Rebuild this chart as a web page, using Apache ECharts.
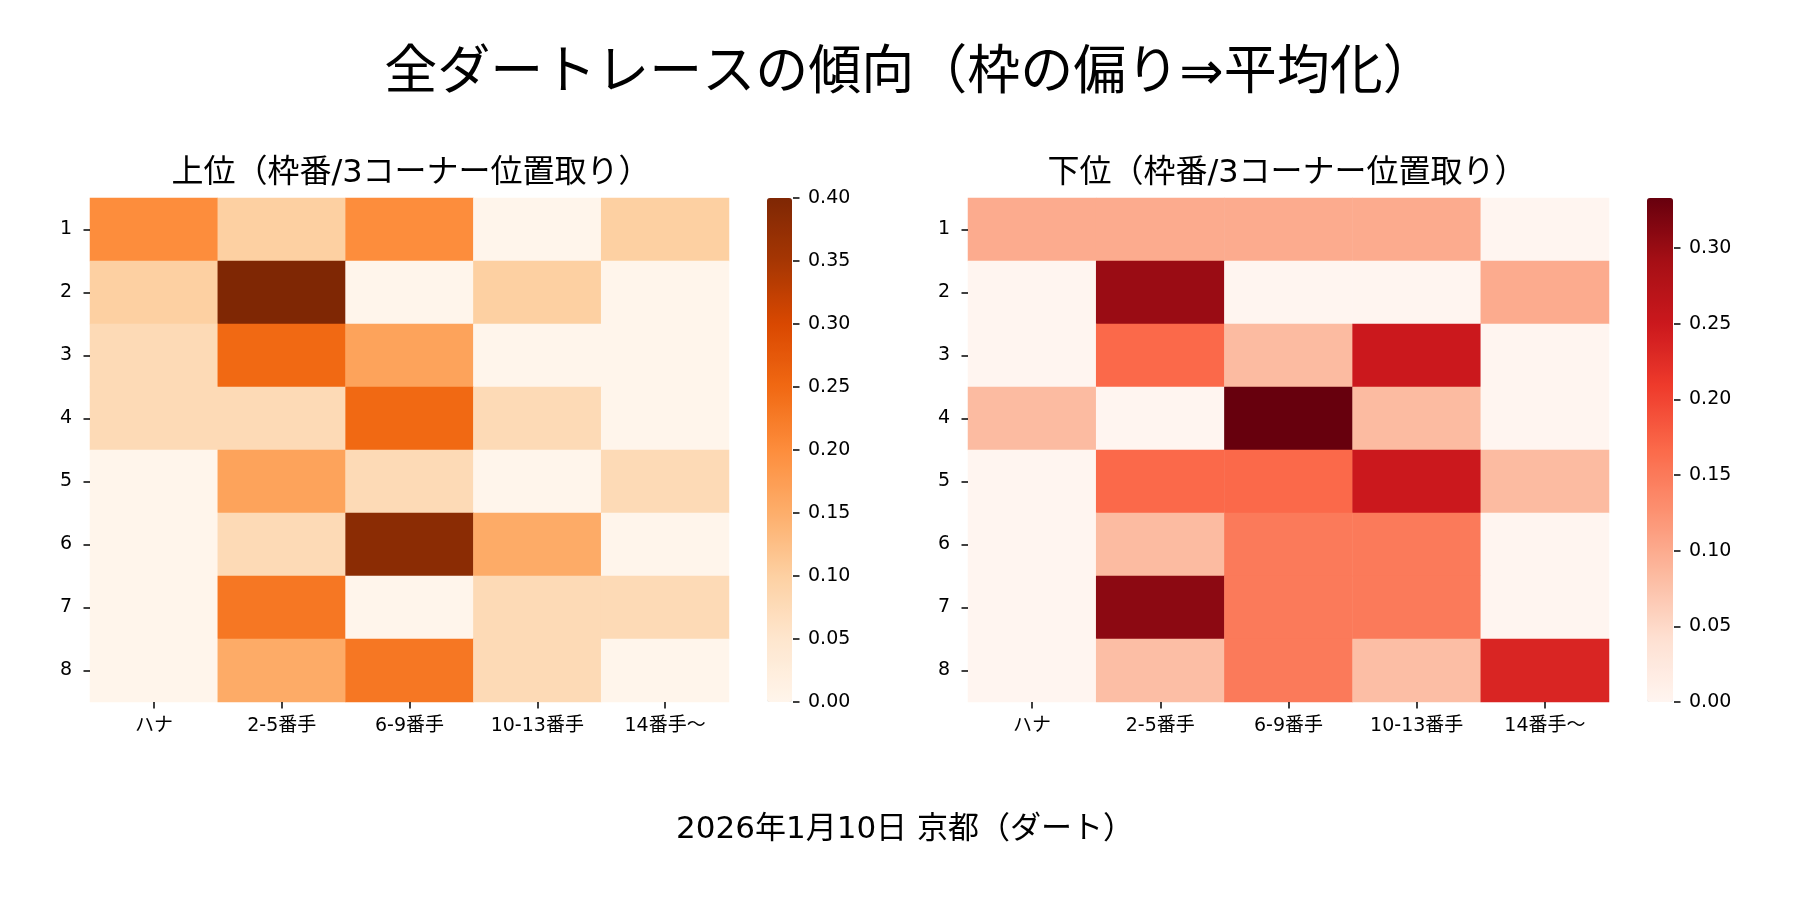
<!DOCTYPE html>
<html>
<head>
<meta charset="utf-8">
<title>全ダートレースの傾向</title>
<script src="https://cdn.jsdelivr.net/npm/echarts@6/dist/echarts.min.js"></script>
<style>
  html, body { margin: 0; padding: 0; background: #fff; }
  #chart { width: 1800px; height: 900px; }
</style>
</head>
<body>
<div id="chart"></div>
<script>
// rows = 枠番 1..8, columns = 3コーナー位置取り
var gateLabels = ["1", "2", "3", "4", "5", "6", "7", "8"];
var positionLabels = ["ハナ", "2-5番手", "6-9番手", "10-13番手", "14番手〜"];

var topRates = [
  [0.200, 0.100, 0.200, 0.000, 0.100],
  [0.100, 0.400, 0.000, 0.100, 0.000],
  [0.077, 0.250, 0.167, 0.000, 0.000],
  [0.077, 0.077, 0.250, 0.077, 0.000],
  [0.000, 0.167, 0.077, 0.000, 0.077],
  [0.000, 0.077, 0.385, 0.154, 0.000],
  [0.000, 0.231, 0.000, 0.077, 0.077],
  [0.000, 0.154, 0.231, 0.077, 0.000]
];

var bottomRates = [
  [0.100, 0.100, 0.100, 0.100, 0.000],
  [0.000, 0.299, 0.000, 0.000, 0.100],
  [0.000, 0.167, 0.083, 0.250, 0.000],
  [0.083, 0.000, 0.333, 0.083, 0.000],
  [0.000, 0.167, 0.167, 0.250, 0.083],
  [0.000, 0.083, 0.150, 0.150, 0.000],
  [0.000, 0.308, 0.150, 0.150, 0.000],
  [0.000, 0.080, 0.150, 0.080, 0.234]
];

var topTicks = [0, 0.05, 0.10, 0.15, 0.20, 0.25, 0.30, 0.35, 0.40];
var bottomTicks = [0, 0.05, 0.10, 0.15, 0.20, 0.25, 0.30];

var mainTitle = "全ダートレースの傾向（枠の偏り⇒平均化）";
var topTitle = "上位（枠番/3コーナー位置取り）";
var bottomTitle = "下位（枠番/3コーナー位置取り）";
var footer = "2026年1月10日 京都（ダート）";

// matplotlib Oranges / Reds anchors
var orangesCmap = ["#fff5eb", "#fee6ce", "#fdd0a2", "#fdae6b", "#fd8d3c",
                   "#f16913", "#d94801", "#a63603", "#7f2704"];
var redsCmap = ["#fff5f0", "#fee0d2", "#fcbba1", "#fc9272", "#fb6a4a",
                "#ef3b2c", "#cb181d", "#a50f15", "#67000d"];

var FONT = "'DejaVu Sans', 'Noto Sans CJK JP', sans-serif";
var INK = "#000";

function toCells(rows) {
  var out = [];
  rows.forEach(function (row, y) {
    row.forEach(function (v, x) { out.push([x, y, v]); });
  });
  return out;
}

function maxOf(rows) {
  return Math.max.apply(null, rows.map(function (r) { return Math.max.apply(null, r); }));
}

// axis line kept "on" but invisible so the ticks are still drawn;
// onZero off or the colorbar axis jumps to the hidden x axis' zero
var hiddenLine = { show: true, onZero: false, lineStyle: { color: "rgba(0,0,0,0)" } };
var tickStyle = { show: true, inside: false, length: 6.5, lineStyle: { color: INK, width: 1.5 } };
var labelStyle = { color: INK, fontSize: 19, fontFamily: FONT };

var layout = [
  { left: 90, width: 639, barLeft: 768, barWidth: 25 },
  { left: 968, width: 641, barLeft: 1648, barWidth: 26 }
];
var TOP = 198, HEIGHT = 504;

function heatAxes(i) {
  return {
    x: {
      type: "category", gridIndex: i, data: positionLabels, position: "bottom", z: 10,
      axisLine: hiddenLine, splitLine: { show: false },
      axisTick: Object.assign({ alignWithLabel: true }, tickStyle),
      axisLabel: Object.assign({ margin: 15 }, labelStyle)
    },
    y: {
      type: "category", gridIndex: i, data: gateLabels, inverse: true, z: 10,
      axisLine: hiddenLine, splitLine: { show: false },
      axisTick: Object.assign({ alignWithLabel: true }, tickStyle),
      axisLabel: Object.assign({ margin: 18 }, labelStyle)
    }
  };
}

function barAxes(gi, max, ticks) {
  return {
    x: { type: "value", gridIndex: gi, show: false, min: 0, max: 1 },
    y: {
      type: "value", gridIndex: gi, position: "right", min: 0, max: max, z: 10,
      axisLine: hiddenLine, splitLine: { show: false },
      axisTick: Object.assign({ customValues: ticks }, tickStyle),
      axisLabel: Object.assign({
        margin: 15, customValues: ticks,
        formatter: function (v) { return v.toFixed(2); }
      }, labelStyle)
    }
  };
}

var topMax = maxOf(topRates);
var bottomMax = maxOf(bottomRates);

var h0 = heatAxes(0), h1 = heatAxes(1);
var b0 = barAxes(2, topMax, topTicks), b1 = barAxes(3, bottomMax, bottomTicks);

function colorbar(seriesIndex, max, l, colors) {
  return {
    type: "continuous", seriesIndex: seriesIndex, min: 0, max: max,
    orient: "vertical", left: l.barLeft - 1, top: TOP, padding: 0, z: 1,
    itemWidth: l.barWidth, itemHeight: HEIGHT,
    calculable: false, text: null, hoverLink: false,
    textStyle: { color: "rgba(0,0,0,0)" },
    inRange: { color: colors }
  };
}

var option = {
  animation: false,
  textStyle: { fontFamily: FONT },
  grid: [
    { left: layout[0].left, top: TOP, width: layout[0].width, height: HEIGHT },
    { left: layout[1].left, top: TOP, width: layout[1].width, height: HEIGHT },
    { left: layout[0].barLeft, top: TOP, width: layout[0].barWidth, height: HEIGHT },
    { left: layout[1].barLeft, top: TOP, width: layout[1].barWidth, height: HEIGHT }
  ],
  xAxis: [h0.x, h1.x, b0.x, b1.x],
  yAxis: [h0.y, h1.y, b0.y, b1.y],
  visualMap: [
    colorbar(0, topMax, layout[0], orangesCmap),
    colorbar(1, bottomMax, layout[1], redsCmap)
  ],
  series: [
    {
      name: topTitle, type: "heatmap", xAxisIndex: 0, yAxisIndex: 0,
      data: toCells(topRates), itemStyle: { borderWidth: 0 },
      emphasis: { disabled: true }
    },
    {
      name: bottomTitle, type: "heatmap", xAxisIndex: 1, yAxisIndex: 1,
      data: toCells(bottomRates), itemStyle: { borderWidth: 0 },
      emphasis: { disabled: true }
    }
  ],
  graphic: [
    { type: "text", x: 910, y: 75, style: { text: mainTitle, font: "53px " + FONT,
      fill: INK, textAlign: "center", textVerticalAlign: "middle" } },
    { type: "text", x: 411, y: 174, style: { text: topTitle, font: "32px " + FONT,
      fill: INK, textAlign: "center", textVerticalAlign: "middle" } },
    { type: "text", x: 1287, y: 174, style: { text: bottomTitle, font: "32px " + FONT,
      fill: INK, textAlign: "center", textVerticalAlign: "middle" } },
    { type: "text", x: 905, y: 830, style: { text: footer, font: "31px " + FONT,
      fill: INK, textAlign: "center", textVerticalAlign: "middle" } }
  ]
};

var chart = echarts.init(document.getElementById("chart"), null, { renderer: "canvas" });
chart.setOption(option);
</script>
</body>
</html>
